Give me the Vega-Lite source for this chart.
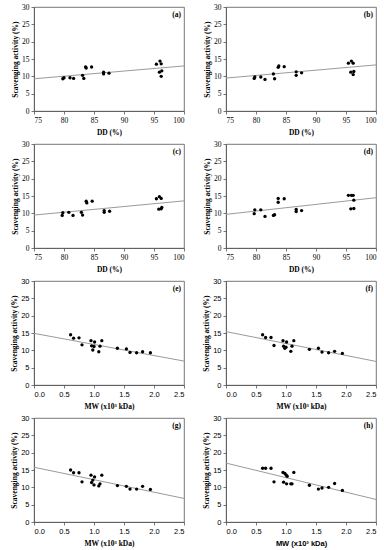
{
  "$schema": "https://vega.github.io/schema/vega-lite/v6.json",
  "background": "white",
  "padding": {"left": 10, "top": 2, "right": 5, "bottom": 0},
  "bounds": "flush",
  "columns": 2,
  "spacing": {"row": 33, "column": 42},
  "config": {
    "view": {"stroke": "#555555", "strokeWidth": 0.8},
    "axis": {
      "grid": false,
      "labelOverlap": false,
      "labelFont": "Liberation Serif",
      "labelFontSize": 7.5,
      "labelColor": "#000000",
      "titleFont": "Liberation Serif",
      "titleFontSize": 7.5,
      "titleFontWeight": "bold",
      "titleColor": "#000000",
      "domainColor": "#555555",
      "domainWidth": 0.8,
      "tickColor": "#555555",
      "tickSize": 3,
      "tickWidth": 0.8,
      "labelPadding": 2
    },
    "axisX": {"titlePadding": 5},
    "axisY": {"titlePadding": 2},
    "text": {"font": "Liberation Serif", "fontSize": 7.5, "fontWeight": "bold", "align": "right", "baseline": "top", "dx": -3, "dy": 4, "color": "#000000"}
  },
  "datasets": {
    "pts": [
      {"p": "a", "x": 79.8, "y": 9.3}, {"p": "a", "x": 80.0, "y": 9.6}, {"p": "a", "x": 81.0, "y": 9.6}, {"p": "a", "x": 81.6, "y": 9.4}, {"p": "a", "x": 83.1, "y": 10.3}, {"p": "a", "x": 83.3, "y": 9.4}, {"p": "a", "x": 83.6, "y": 12.7}, {"p": "a", "x": 83.7, "y": 12.4}, {"p": "a", "x": 84.6, "y": 12.7}, {"p": "a", "x": 86.6, "y": 11.2}, {"p": "a", "x": 86.6, "y": 10.7}, {"p": "a", "x": 87.5, "y": 10.9}, {"p": "a", "x": 95.4, "y": 13.5}, {"p": "a", "x": 96.0, "y": 14.4}, {"p": "a", "x": 96.2, "y": 13.6}, {"p": "a", "x": 95.9, "y": 11.2}, {"p": "a", "x": 96.3, "y": 11.6}, {"p": "a", "x": 96.2, "y": 10.0},
      {"p": "b", "x": 79.7, "y": 9.4}, {"p": "b", "x": 79.8, "y": 9.8}, {"p": "b", "x": 80.8, "y": 9.8}, {"p": "b", "x": 81.5, "y": 9.1}, {"p": "b", "x": 82.9, "y": 10.7}, {"p": "b", "x": 83.1, "y": 9.3}, {"p": "b", "x": 83.7, "y": 12.6}, {"p": "b", "x": 83.8, "y": 13.0}, {"p": "b", "x": 84.7, "y": 12.8}, {"p": "b", "x": 86.7, "y": 11.3}, {"p": "b", "x": 86.7, "y": 10.3}, {"p": "b", "x": 87.6, "y": 11.0}, {"p": "b", "x": 95.4, "y": 13.8}, {"p": "b", "x": 95.9, "y": 14.4}, {"p": "b", "x": 96.2, "y": 13.8}, {"p": "b", "x": 95.8, "y": 11.2}, {"p": "b", "x": 96.3, "y": 11.4}, {"p": "b", "x": 96.2, "y": 10.5},
      {"p": "c", "x": 79.7, "y": 9.4}, {"p": "c", "x": 79.8, "y": 10.2}, {"p": "c", "x": 80.8, "y": 10.3}, {"p": "c", "x": 81.5, "y": 9.4}, {"p": "c", "x": 82.9, "y": 10.3}, {"p": "c", "x": 83.1, "y": 9.5}, {"p": "c", "x": 83.7, "y": 13.5}, {"p": "c", "x": 83.8, "y": 13.0}, {"p": "c", "x": 84.7, "y": 13.5}, {"p": "c", "x": 86.7, "y": 10.8}, {"p": "c", "x": 86.7, "y": 10.3}, {"p": "c", "x": 87.6, "y": 10.6}, {"p": "c", "x": 95.4, "y": 14.2}, {"p": "c", "x": 95.9, "y": 14.8}, {"p": "c", "x": 96.2, "y": 14.3}, {"p": "c", "x": 95.8, "y": 11.2}, {"p": "c", "x": 96.3, "y": 11.7}, {"p": "c", "x": 96.2, "y": 11.3},
      {"p": "d", "x": 79.7, "y": 9.9}, {"p": "d", "x": 79.8, "y": 11.0}, {"p": "d", "x": 80.8, "y": 11.0}, {"p": "d", "x": 81.5, "y": 9.1}, {"p": "d", "x": 82.9, "y": 9.4}, {"p": "d", "x": 83.1, "y": 9.6}, {"p": "d", "x": 83.7, "y": 14.3}, {"p": "d", "x": 83.7, "y": 13.2}, {"p": "d", "x": 84.7, "y": 14.2}, {"p": "d", "x": 86.7, "y": 11.1}, {"p": "d", "x": 86.7, "y": 10.5}, {"p": "d", "x": 87.6, "y": 10.8}, {"p": "d", "x": 95.4, "y": 15.2}, {"p": "d", "x": 95.9, "y": 15.2}, {"p": "d", "x": 96.2, "y": 15.2}, {"p": "d", "x": 96.3, "y": 13.8}, {"p": "d", "x": 95.8, "y": 11.3}, {"p": "d", "x": 96.3, "y": 11.4},
      {"p": "e", "x": 0.61, "y": 14.5}, {"p": "e", "x": 0.66, "y": 13.5}, {"p": "e", "x": 0.75, "y": 13.6}, {"p": "e", "x": 0.80, "y": 11.6}, {"p": "e", "x": 0.95, "y": 12.8}, {"p": "e", "x": 0.96, "y": 11.3}, {"p": "e", "x": 0.98, "y": 10.1}, {"p": "e", "x": 1.00, "y": 11.1}, {"p": "e", "x": 1.01, "y": 12.4}, {"p": "e", "x": 1.08, "y": 9.6}, {"p": "e", "x": 1.10, "y": 11.2}, {"p": "e", "x": 1.13, "y": 12.8}, {"p": "e", "x": 1.39, "y": 10.6}, {"p": "e", "x": 1.54, "y": 10.4}, {"p": "e", "x": 1.60, "y": 9.4}, {"p": "e", "x": 1.71, "y": 9.3}, {"p": "e", "x": 1.81, "y": 9.6}, {"p": "e", "x": 1.94, "y": 9.3},
      {"p": "f", "x": 0.61, "y": 14.5}, {"p": "f", "x": 0.66, "y": 13.7}, {"p": "f", "x": 0.75, "y": 13.7}, {"p": "f", "x": 0.80, "y": 11.4}, {"p": "f", "x": 0.95, "y": 12.8}, {"p": "f", "x": 0.96, "y": 11.2}, {"p": "f", "x": 0.98, "y": 10.6}, {"p": "f", "x": 1.00, "y": 10.9}, {"p": "f", "x": 1.01, "y": 12.4}, {"p": "f", "x": 1.08, "y": 9.7}, {"p": "f", "x": 1.10, "y": 11.2}, {"p": "f", "x": 1.13, "y": 12.8}, {"p": "f", "x": 1.39, "y": 10.3}, {"p": "f", "x": 1.54, "y": 10.6}, {"p": "f", "x": 1.60, "y": 9.5}, {"p": "f", "x": 1.71, "y": 9.3}, {"p": "f", "x": 1.81, "y": 9.7}, {"p": "f", "x": 1.94, "y": 9.1},
      {"p": "g", "x": 0.61, "y": 15.0}, {"p": "g", "x": 0.66, "y": 14.2}, {"p": "g", "x": 0.75, "y": 14.2}, {"p": "g", "x": 0.80, "y": 11.6}, {"p": "g", "x": 0.95, "y": 13.5}, {"p": "g", "x": 0.96, "y": 11.4}, {"p": "g", "x": 0.98, "y": 12.1}, {"p": "g", "x": 1.00, "y": 10.7}, {"p": "g", "x": 1.01, "y": 13.0}, {"p": "g", "x": 1.08, "y": 10.4}, {"p": "g", "x": 1.10, "y": 11.0}, {"p": "g", "x": 1.13, "y": 13.5}, {"p": "g", "x": 1.39, "y": 10.5}, {"p": "g", "x": 1.54, "y": 10.3}, {"p": "g", "x": 1.60, "y": 9.5}, {"p": "g", "x": 1.71, "y": 9.5}, {"p": "g", "x": 1.81, "y": 10.3}, {"p": "g", "x": 1.94, "y": 9.4},
      {"p": "h", "x": 0.61, "y": 15.5}, {"p": "h", "x": 0.66, "y": 15.5}, {"p": "h", "x": 0.75, "y": 15.5}, {"p": "h", "x": 0.80, "y": 11.6}, {"p": "h", "x": 0.95, "y": 14.3}, {"p": "h", "x": 0.96, "y": 11.5}, {"p": "h", "x": 0.98, "y": 14.0}, {"p": "h", "x": 1.00, "y": 13.6}, {"p": "h", "x": 1.01, "y": 11.0}, {"p": "h", "x": 1.02, "y": 13.2}, {"p": "h", "x": 1.08, "y": 11.0}, {"p": "h", "x": 1.10, "y": 11.0}, {"p": "h", "x": 1.13, "y": 14.3}, {"p": "h", "x": 1.39, "y": 10.6}, {"p": "h", "x": 1.54, "y": 9.5}, {"p": "h", "x": 1.60, "y": 9.8}, {"p": "h", "x": 1.71, "y": 10.0}, {"p": "h", "x": 1.81, "y": 11.1}, {"p": "h", "x": 1.94, "y": 9.1}
    ],
    "lines": [
      {"p": "a", "x": 75, "y": 9.3, "x2": 100, "y2": 13.0},
      {"p": "b", "x": 75, "y": 9.5, "x2": 100, "y2": 13.3},
      {"p": "c", "x": 75, "y": 9.5, "x2": 100, "y2": 13.6},
      {"p": "d", "x": 75, "y": 9.7, "x2": 100, "y2": 14.5},
      {"p": "e", "x": 0, "y": 14.9, "x2": 2.5, "y2": 6.9},
      {"p": "f", "x": 0, "y": 15.4, "x2": 2.5, "y2": 6.8},
      {"p": "g", "x": 0, "y": 15.8, "x2": 2.5, "y2": 6.8},
      {"p": "h", "x": 0, "y": 17.0, "x2": 2.5, "y2": 6.5}
    ]
  },
  "concat": [
    {"width": 150, "height": 104,
     "encoding": {"x": {"field": "x", "type": "quantitative", "scale": {"domain": [75, 100]}, "axis": {"values": [75, 80, 85, 90, 95, 100], "labelOverlap": false, "tickCount": 6, "title": "DD (%)"}}, "y": {"field": "y", "type": "quantitative", "scale": {"domain": [0, 30]}, "axis": {"values": [0, 5, 10, 15, 20, 25, 30], "labelOverlap": false, "tickCount": 7, "title": "Scavenging activity (%)"}}},
     "layer": [
      {"data": {"name": "lines"}, "transform": [{"filter": "datum.p == 'a'"}], "mark": {"type": "rule", "color": "#9a9a9a", "strokeWidth": 1}, "encoding": {"x2": {"field": "x2"}, "y2": {"field": "y2"}}},
      {"data": {"name": "pts"}, "transform": [{"filter": "datum.p == 'a'"}], "mark": {"type": "circle", "color": "#000000", "size": 11, "opacity": 1}},
      {"data": {"values": [{"t": "(a)", "x": 100, "y": 30}]}, "mark": {"type": "text"}, "encoding": {"text": {"field": "t"}}}
    ]},
    {"width": 150, "height": 104,
     "encoding": {"x": {"field": "x", "type": "quantitative", "scale": {"domain": [75, 100]}, "axis": {"values": [75, 80, 85, 90, 95, 100], "labelOverlap": false, "tickCount": 6, "title": "DD (%)"}}, "y": {"field": "y", "type": "quantitative", "scale": {"domain": [0, 30]}, "axis": {"values": [0, 5, 10, 15, 20, 25, 30], "labelOverlap": false, "tickCount": 7, "title": "Scavenging activity (%)"}}},
     "layer": [
      {"data": {"name": "lines"}, "transform": [{"filter": "datum.p == 'b'"}], "mark": {"type": "rule", "color": "#9a9a9a", "strokeWidth": 1}, "encoding": {"x2": {"field": "x2"}, "y2": {"field": "y2"}}},
      {"data": {"name": "pts"}, "transform": [{"filter": "datum.p == 'b'"}], "mark": {"type": "circle", "color": "#000000", "size": 11, "opacity": 1}},
      {"data": {"values": [{"t": "(b)", "x": 100, "y": 30}]}, "mark": {"type": "text"}, "encoding": {"text": {"field": "t"}}}
    ]},
    {"width": 150, "height": 104,
     "encoding": {"x": {"field": "x", "type": "quantitative", "scale": {"domain": [75, 100]}, "axis": {"values": [75, 80, 85, 90, 95, 100], "labelOverlap": false, "tickCount": 6, "title": "DD (%)"}}, "y": {"field": "y", "type": "quantitative", "scale": {"domain": [0, 30]}, "axis": {"values": [0, 5, 10, 15, 20, 25, 30], "labelOverlap": false, "tickCount": 7, "title": "Scavenging activity (%)"}}},
     "layer": [
      {"data": {"name": "lines"}, "transform": [{"filter": "datum.p == 'c'"}], "mark": {"type": "rule", "color": "#9a9a9a", "strokeWidth": 1}, "encoding": {"x2": {"field": "x2"}, "y2": {"field": "y2"}}},
      {"data": {"name": "pts"}, "transform": [{"filter": "datum.p == 'c'"}], "mark": {"type": "circle", "color": "#000000", "size": 11, "opacity": 1}},
      {"data": {"values": [{"t": "(c)", "x": 100, "y": 30}]}, "mark": {"type": "text"}, "encoding": {"text": {"field": "t"}}}
    ]},
    {"width": 150, "height": 104,
     "encoding": {"x": {"field": "x", "type": "quantitative", "scale": {"domain": [75, 100]}, "axis": {"values": [75, 80, 85, 90, 95, 100], "labelOverlap": false, "tickCount": 6, "title": "DD (%)"}}, "y": {"field": "y", "type": "quantitative", "scale": {"domain": [0, 30]}, "axis": {"values": [0, 5, 10, 15, 20, 25, 30], "labelOverlap": false, "tickCount": 7, "title": "Scavenging activity (%)"}}},
     "layer": [
      {"data": {"name": "lines"}, "transform": [{"filter": "datum.p == 'd'"}], "mark": {"type": "rule", "color": "#9a9a9a", "strokeWidth": 1}, "encoding": {"x2": {"field": "x2"}, "y2": {"field": "y2"}}},
      {"data": {"name": "pts"}, "transform": [{"filter": "datum.p == 'd'"}], "mark": {"type": "circle", "color": "#000000", "size": 11, "opacity": 1}},
      {"data": {"values": [{"t": "(d)", "x": 100, "y": 30}]}, "mark": {"type": "text"}, "encoding": {"text": {"field": "t"}}}
    ]},
    {"width": 150, "height": 104,
     "encoding": {"x": {"field": "x", "type": "quantitative", "scale": {"domain": [0, 2.5]}, "axis": {"values": [0, 0.5, 1, 1.5, 2, 2.5], "format": ".1f", "labelFont": "Liberation Sans", "labelOverlap": false, "tickCount": 6, "title": "MW (x10³ kDa)"}}, "y": {"field": "y", "type": "quantitative", "scale": {"domain": [0, 30]}, "axis": {"values": [0, 5, 10, 15, 20, 25, 30], "labelFont": "Liberation Sans", "labelOverlap": false, "tickCount": 7, "title": "Scavenging activity (%)"}}},
     "layer": [
      {"data": {"name": "lines"}, "transform": [{"filter": "datum.p == 'e'"}], "mark": {"type": "rule", "color": "#9a9a9a", "strokeWidth": 1}, "encoding": {"x2": {"field": "x2"}, "y2": {"field": "y2"}}},
      {"data": {"name": "pts"}, "transform": [{"filter": "datum.p == 'e'"}], "mark": {"type": "circle", "color": "#000000", "size": 11, "opacity": 1}},
      {"data": {"values": [{"t": "(e)", "x": 2.5, "y": 30}]}, "mark": {"type": "text"}, "encoding": {"text": {"field": "t"}}}
    ]},
    {"width": 150, "height": 104,
     "encoding": {"x": {"field": "x", "type": "quantitative", "scale": {"domain": [0, 2.5]}, "axis": {"values": [0, 0.5, 1, 1.5, 2, 2.5], "format": ".1f", "labelFont": "Liberation Sans", "labelOverlap": false, "tickCount": 6, "title": "MW (x10³ kDa)"}}, "y": {"field": "y", "type": "quantitative", "scale": {"domain": [0, 30]}, "axis": {"values": [0, 5, 10, 15, 20, 25, 30], "labelFont": "Liberation Sans", "labelOverlap": false, "tickCount": 7, "title": "Scavenging activity (%)"}}},
     "layer": [
      {"data": {"name": "lines"}, "transform": [{"filter": "datum.p == 'f'"}], "mark": {"type": "rule", "color": "#9a9a9a", "strokeWidth": 1}, "encoding": {"x2": {"field": "x2"}, "y2": {"field": "y2"}}},
      {"data": {"name": "pts"}, "transform": [{"filter": "datum.p == 'f'"}], "mark": {"type": "circle", "color": "#000000", "size": 11, "opacity": 1}},
      {"data": {"values": [{"t": "(f)", "x": 2.5, "y": 30}]}, "mark": {"type": "text"}, "encoding": {"text": {"field": "t"}}}
    ]},
    {"width": 150, "height": 104,
     "encoding": {"x": {"field": "x", "type": "quantitative", "scale": {"domain": [0, 2.5]}, "axis": {"values": [0, 0.5, 1, 1.5, 2, 2.5], "format": ".1f", "labelFont": "Liberation Sans", "labelOverlap": false, "tickCount": 6, "title": "MW (x10³ kDa)"}}, "y": {"field": "y", "type": "quantitative", "scale": {"domain": [0, 30]}, "axis": {"values": [0, 5, 10, 15, 20, 25, 30], "labelFont": "Liberation Sans", "labelOverlap": false, "tickCount": 7, "title": "Scavenging activity (%)"}}},
     "layer": [
      {"data": {"name": "lines"}, "transform": [{"filter": "datum.p == 'g'"}], "mark": {"type": "rule", "color": "#9a9a9a", "strokeWidth": 1}, "encoding": {"x2": {"field": "x2"}, "y2": {"field": "y2"}}},
      {"data": {"name": "pts"}, "transform": [{"filter": "datum.p == 'g'"}], "mark": {"type": "circle", "color": "#000000", "size": 11, "opacity": 1}},
      {"data": {"values": [{"t": "(g)", "x": 2.5, "y": 30}]}, "mark": {"type": "text"}, "encoding": {"text": {"field": "t"}}}
    ]},
    {"width": 150, "height": 104,
     "encoding": {"x": {"field": "x", "type": "quantitative", "scale": {"domain": [0, 2.5]}, "axis": {"values": [0, 0.5, 1, 1.5, 2, 2.5], "format": ".1f", "labelFont": "Liberation Sans", "titleFont": "Liberation Sans", "labelOverlap": false, "tickCount": 6, "title": "MW (x10³ kDa)"}}, "y": {"field": "y", "type": "quantitative", "scale": {"domain": [0, 30]}, "axis": {"values": [0, 5, 10, 15, 20, 25, 30], "labelFont": "Liberation Sans", "labelOverlap": false, "tickCount": 7, "title": "Scavenging activity (%)"}}},
     "layer": [
      {"data": {"name": "lines"}, "transform": [{"filter": "datum.p == 'h'"}], "mark": {"type": "rule", "color": "#9a9a9a", "strokeWidth": 1}, "encoding": {"x2": {"field": "x2"}, "y2": {"field": "y2"}}},
      {"data": {"name": "pts"}, "transform": [{"filter": "datum.p == 'h'"}], "mark": {"type": "circle", "color": "#000000", "size": 11, "opacity": 1}},
      {"data": {"values": [{"t": "(h)", "x": 2.5, "y": 30}]}, "mark": {"type": "text"}, "encoding": {"text": {"field": "t"}}}
    ]}
  ]
}
